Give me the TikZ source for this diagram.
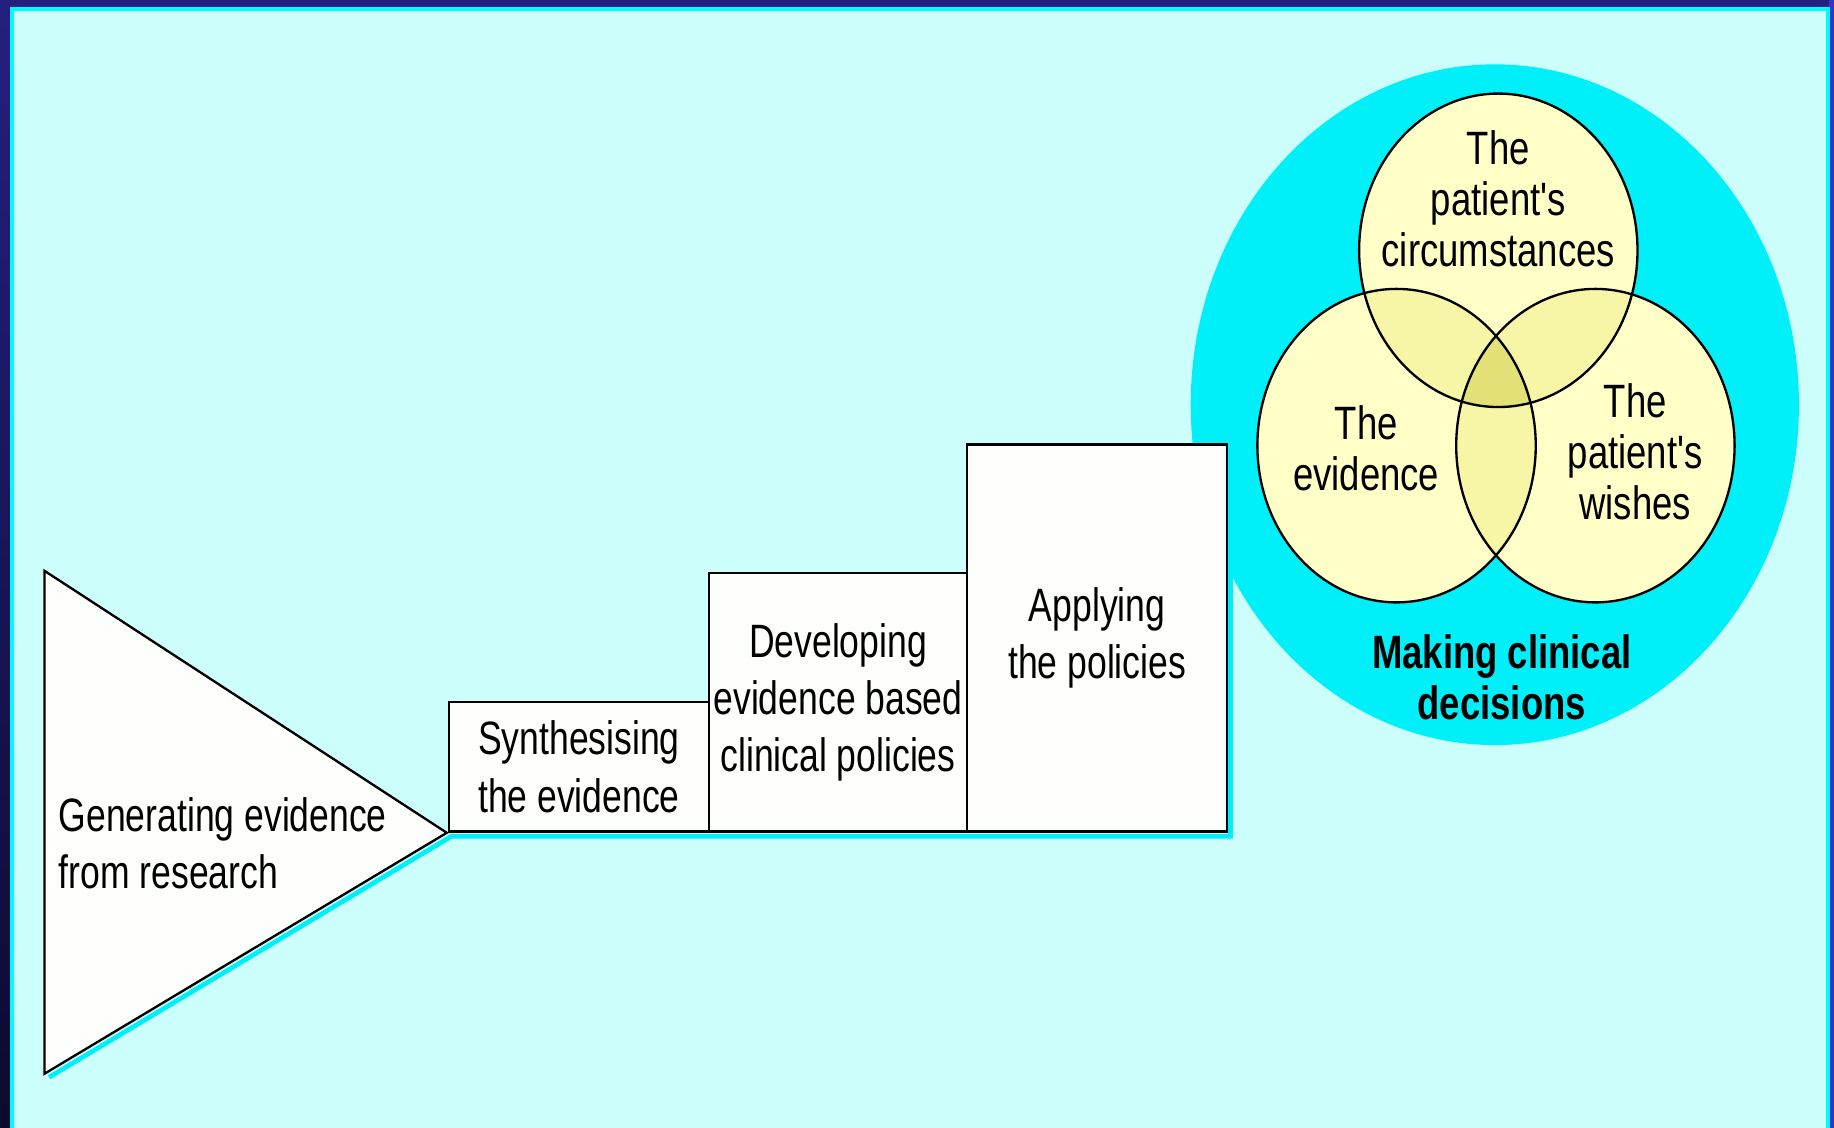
\documentclass[tikz,border=0pt]{standalone}
\usepackage{fontspec}
\setmainfont{Liberation Sans}[FakeStretch=0.78, Ligatures=TeXOff]
\newfontfamily\narrowfont{Liberation Sans}[FakeStretch=0.76, Ligatures=TeXOff]
\definecolor{navytop}{RGB}{12,10,46}
\definecolor{navybot}{RGB}{36,32,128}
\definecolor{rightblue}{RGB}{52,50,200}
\definecolor{cyanedge}{RGB}{0,250,255}
\definecolor{bgcyan}{RGB}{204,255,252}
\definecolor{bigcyan}{RGB}{0,240,250}
\definecolor{shadowcyan}{RGB}{0,238,250}
\definecolor{vsingle}{RGB}{255,255,200}
\definecolor{vdouble}{RGB}{246,246,166}
\definecolor{vtriple}{RGB}{226,226,120}
\definecolor{boxwhite}{RGB}{253,255,252}
\tikzset{
  stepbox/.style={draw=black, fill=boxwhite, line width=2pt, inner sep=0pt,
    anchor=south west, align=center, font=\narrowfont\fontsize{40}{49}\selectfont},
  venntext/.style={align=center, font=\fontsize{40}{43.5}\selectfont, inner sep=0pt},
  venncircle/.style={draw=black, line width=2pt},
}
\begin{document}
\begin{tikzpicture}[x=1pt,y=-1pt]
\useasboundingbox (0,0) rectangle (1568,964);
% frame
\shade[top color=navybot, bottom color=navytop] (0,0) rectangle (1568,964);
\fill[rightblue] (1564,0) rectangle (1568,964);
\fill[cyanedge] (8.5,6) rectangle (1564.5,964);
\fill[bgcyan] (12,9.5) rectangle (1561,964);
% big cyan ellipse
\fill[bigcyan] (1278,346) ellipse [x radius=260pt, y radius=291pt];
% venn fills
\fill[vsingle] (1281,214) ellipse [x radius=119pt, y radius=134pt];
\fill[vsingle] (1194,381) ellipse [x radius=119pt, y radius=134pt];
\fill[vsingle] (1364,381) ellipse [x radius=119pt, y radius=134pt];
\begin{scope}
  \clip (1281,214) ellipse [x radius=119pt, y radius=134pt];
  \fill[vdouble] (1194,381) ellipse [x radius=119pt, y radius=134pt];
  \fill[vdouble] (1364,381) ellipse [x radius=119pt, y radius=134pt];
\end{scope}
\begin{scope}
  \clip (1194,381) ellipse [x radius=119pt, y radius=134pt];
  \fill[vdouble] (1364,381) ellipse [x radius=119pt, y radius=134pt];
\end{scope}
\begin{scope}
  \clip (1281,214) ellipse [x radius=119pt, y radius=134pt];
  \clip (1194,381) ellipse [x radius=119pt, y radius=134pt];
  \fill[vtriple] (1364,381) ellipse [x radius=119pt, y radius=134pt];
\end{scope}
\draw[venncircle] (1281,214) ellipse [x radius=119pt, y radius=134pt];
\draw[venncircle] (1194,381) ellipse [x radius=119pt, y radius=134pt];
\draw[venncircle] (1364,381) ellipse [x radius=119pt, y radius=134pt];
\node[venntext] (circ) at (1281,170) {The\\patient's\\circumstances};
\node[venntext] (evid) at (1168,383) {The\\evidence};
\node[venntext] (wish) at (1398,386) {The\\patient's\\wishes};
\node[venntext, font=\fontsize{40}{43.5}\selectfont\bfseries] (make) at (1284,579) {Making clinical\\decisions};
% shadows
\draw[shadowcyan, line width=4pt] (42,921) -- (386,715) -- (1052,715) -- (1052,384);
% steps
\node[stepbox, minimum width=222pt, minimum height=111pt] (syn) at (383,712) {Synthesising\\the evidence};
\node[stepbox, minimum width=221pt, minimum height=221pt] (dev) at (605,712) {Developing\\evidence based\\clinical policies};
\node[stepbox, minimum width=222pt, minimum height=331pt] (app) at (826,712) {Applying\\the policies};
% triangle
\coordinate (ttop) at (38,488);
\coordinate (tbot) at (38,918);
\coordinate (tapex) at (382,712);
\draw[black, fill=boxwhite, line width=2pt, line join=miter] (ttop) -- (tapex) -- (tbot) -- cycle;
\node[anchor=west, align=left, inner sep=0pt, font=\narrowfont\fontsize{40}{48.5}\selectfont] (gen) at (50,721) {Generating evidence\\from research};
\end{tikzpicture}
\end{document}
